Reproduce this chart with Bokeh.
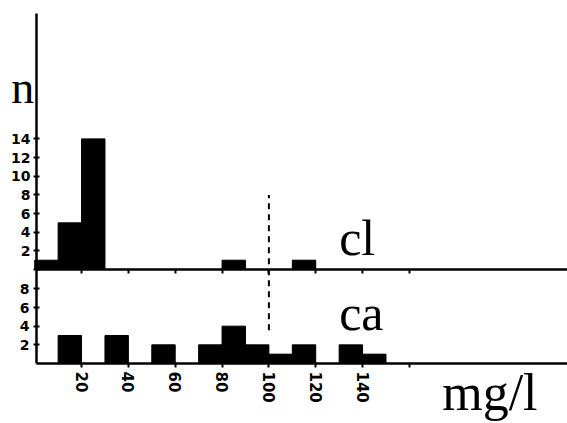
from bokeh.plotting import figure
from bokeh.models import Range1d, LinearAxis, FixedTicker, Label, ColumnDataSource
from bokeh.embed import file_html
from bokeh.resources import INLINE

# ---- data (histogram bins of 10 mg/l) ----
bin_left = [0, 10, 20, 30, 40, 50, 60, 70, 80, 90, 100, 110, 120, 130, 140, 150]
bin_width = 10
cl_counts = [1, 5, 14, 0, 0, 0, 0, 0, 1, 0, 0, 1, 0, 0, 0, 0]
ca_counts = [0, 3, 0, 3, 0, 2, 0, 2, 4, 2, 1, 2, 0, 2, 1, 0]
cl_ticks = [0, 2, 4, 6, 8, 10, 12, 14]
ca_ticks = [2, 4, 6, 8]
x_ticks = [20, 40, 60, 80, 100, 120, 140, 160]
x_tick_labels = ["20", "40", "60", "80", "100", "120", "140", ""]
threshold = 100

# layout constants (data units)
X_LO, X_HI = -14.6, 227.5      # visible x extent (full canvas)
X_AXIS = 0.77                  # where the y axes stand
CA_LO, CA_HI = -6.43, 38.9     # ca scale over the full canvas height
CL_SHIFT = 10.07               # cl baseline sits this many ca units above the ca baseline
CA_TOP = 37.5                  # top of the vertical axis line
TICK_FONT = "DejaVu Sans"
SERIF = "Liberation Serif"

p = figure(width=567, height=423, output_backend="svg", toolbar_location=None,
           title=None, x_range=Range1d(X_LO, X_HI), y_range=Range1d(CA_LO, CA_HI),
           x_axis_type=None, y_axis_type=None,
           min_border=0, min_border_left=0, min_border_right=0,
           min_border_top=0, min_border_bottom=0)
p.extra_y_ranges = {"cl": Range1d(CA_LO - CL_SHIFT, CA_HI - CL_SHIFT)}
p.outline_line_color = None
p.background_fill_color = "white"
p.border_fill_color = "white"


def style(ax):
    ax.axis_line_color = "black"
    ax.axis_line_width = 2.5
    ax.major_tick_line_color = "black"
    ax.major_tick_line_width = 2
    ax.minor_tick_line_color = None
    ax.major_label_text_font = TICK_FONT
    ax.major_label_text_font_style = "bold"
    ax.major_label_text_font_size = "14px"
    ax.major_label_text_color = "black"


# main x axis (ca baseline)
xax = LinearAxis(fixed_location=0, bounds=(X_AXIS, X_HI),
                 ticker=FixedTicker(ticks=x_ticks),
                 major_label_overrides={t: l for t, l in zip(x_ticks, x_tick_labels)})
style(xax)
xax.major_label_text_font_size = "15px"
xax.major_tick_in = 0
xax.major_tick_out = 4
xax.major_label_standoff = 4
xax.major_label_orientation = "vertical"
p.add_layout(xax, "below")

# cl baseline axis
cl_base = LinearAxis(y_range_name="cl", fixed_location=0, bounds=(X_AXIS, X_HI),
                     ticker=FixedTicker(ticks=x_ticks))
style(cl_base)
cl_base.major_label_text_color = None
cl_base.major_tick_in = 0
cl_base.major_tick_out = 4
p.add_layout(cl_base, "below")

# ca y axis (full-height axis line)
ca_ax = LinearAxis(fixed_location=X_AXIS, bounds=(0, CA_TOP),
                   ticker=FixedTicker(ticks=ca_ticks))
style(ca_ax)
ca_ax.major_tick_in = 3
ca_ax.major_tick_out = 3
ca_ax.major_label_standoff = 4
p.add_layout(ca_ax, "left")

# cl y axis (same position, other range)
cl_ax = LinearAxis(y_range_name="cl", fixed_location=X_AXIS,
                   ticker=FixedTicker(ticks=cl_ticks),
                   major_label_overrides={0: ""})
style(cl_ax)
cl_ax.axis_line_color = None
cl_ax.major_tick_in = 3
cl_ax.major_tick_out = 3
cl_ax.major_label_standoff = 3
p.add_layout(cl_ax, "left")

# bars
cl_src = ColumnDataSource(dict(
    left=[b for b, c in zip(bin_left, cl_counts) if c > 0],
    right=[b + bin_width for b, c in zip(bin_left, cl_counts) if c > 0],
    top=[c for c in cl_counts if c > 0]))
ca_src = ColumnDataSource(dict(
    left=[b for b, c in zip(bin_left, ca_counts) if c > 0],
    right=[b + bin_width for b, c in zip(bin_left, ca_counts) if c > 0],
    top=[c for c in ca_counts if c > 0]))
p.quad(left="left", right="right", bottom=0, top="top", source=cl_src,
       y_range_name="cl", fill_color="black", line_color="black")
p.quad(left="left", right="right", bottom=0, top="top", source=ca_src,
       fill_color="black", line_color="black")

# dashed threshold line
p.segment(x0=[threshold], y0=[-6.5], x1=[threshold], y1=[8.0], y_range_name="cl",
          line_color="black", line_width=2, line_dash="6 5")

# text labels
p.add_layout(Label(x=-10, y=16.8, y_range_name="cl", text="n", text_font=SERIF,
                   text_font_size="46px", text_color="black"))
p.add_layout(Label(x=130, y=0.4, y_range_name="cl", text="cl", text_font=SERIF,
                   text_font_size="50px", text_color="black"))
p.add_layout(Label(x=130, y=2.4, text="ca", text_font=SERIF,
                   text_font_size="50px", text_color="black"))
p.add_layout(Label(x=174, y=-6.2, text="mg/l", text_font=SERIF,
                   text_font_size="52px", text_color="black"))

open("out.html", "w").write(file_html(p, INLINE))
